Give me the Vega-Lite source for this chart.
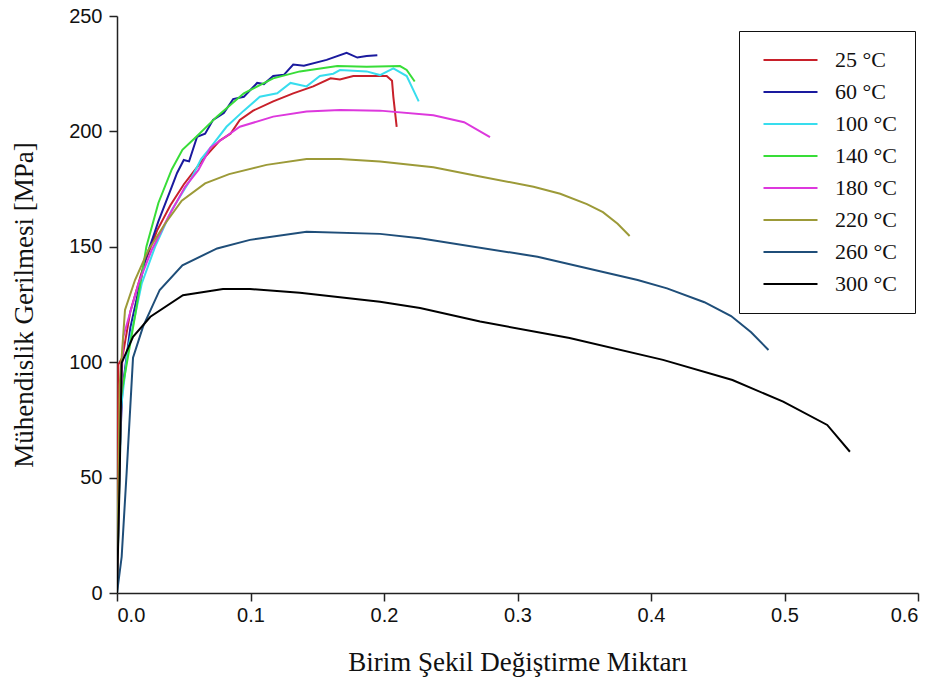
{
  "$schema": "https://vega.github.io/schema/vega-lite/v6.json",
  "width": 801,
  "height": 577,
  "autosize": "none",
  "padding": {"left": 117, "top": 16, "right": 20, "bottom": 100},
  "background": "white",
  "config": {
    "view": {"stroke": null},
    "axis": {"grid": false, "domainColor": "#222", "tickColor": "#222", "domainWidth": 1.5, "tickWidth": 1.5, "tickSize": 8,
      "labelFont": "Liberation Sans", "labelFontSize": 20, "labelColor": "#111",
      "titleFont": "Liberation Serif", "titleFontSize": 27, "titleFontWeight": "normal", "titleColor": "#111"}
  },
  "data": {"values": [
    {"t": "25 °C", "x": 0, "y": 0}, {"t": "25 °C", "x": 0.001, "y": 99}, {"t": "25 °C", "x": 0.004, "y": 102}, {"t": "25 °C", "x": 0.01, "y": 122}, {"t": "25 °C", "x": 0.02, "y": 142}, {"t": "25 °C", "x": 0.03, "y": 157}, {"t": "25 °C", "x": 0.04, "y": 168}, {"t": "25 °C", "x": 0.05, "y": 177}, {"t": "25 °C", "x": 0.058, "y": 183}, {"t": "25 °C", "x": 0.066, "y": 189}, {"t": "25 °C", "x": 0.077, "y": 196}, {"t": "25 °C", "x": 0.085, "y": 199}, {"t": "25 °C", "x": 0.092, "y": 205}, {"t": "25 °C", "x": 0.102, "y": 209}, {"t": "25 °C", "x": 0.117, "y": 213}, {"t": "25 °C", "x": 0.132, "y": 216.5}, {"t": "25 °C", "x": 0.147, "y": 219.5}, {"t": "25 °C", "x": 0.16, "y": 223}, {"t": "25 °C", "x": 0.167, "y": 222.5}, {"t": "25 °C", "x": 0.177, "y": 224}, {"t": "25 °C", "x": 0.202, "y": 224}, {"t": "25 °C", "x": 0.206, "y": 222}, {"t": "25 °C", "x": 0.207, "y": 215}, {"t": "25 °C", "x": 0.2095, "y": 202},
    {"t": "60 °C", "x": 0, "y": 0}, {"t": "60 °C", "x": 0.002, "y": 60}, {"t": "60 °C", "x": 0.004, "y": 88}, {"t": "60 °C", "x": 0.01, "y": 115}, {"t": "60 °C", "x": 0.021, "y": 144}, {"t": "60 °C", "x": 0.031, "y": 161}, {"t": "60 °C", "x": 0.041, "y": 176}, {"t": "60 °C", "x": 0.045, "y": 182}, {"t": "60 °C", "x": 0.05, "y": 187.6}, {"t": "60 °C", "x": 0.054, "y": 187}, {"t": "60 °C", "x": 0.06, "y": 197.7}, {"t": "60 °C", "x": 0.066, "y": 199}, {"t": "60 °C", "x": 0.072, "y": 205}, {"t": "60 °C", "x": 0.08, "y": 208}, {"t": "60 °C", "x": 0.087, "y": 214}, {"t": "60 °C", "x": 0.095, "y": 215}, {"t": "60 °C", "x": 0.105, "y": 221}, {"t": "60 °C", "x": 0.11, "y": 220.5}, {"t": "60 °C", "x": 0.117, "y": 224}, {"t": "60 °C", "x": 0.125, "y": 224.5}, {"t": "60 °C", "x": 0.132, "y": 229}, {"t": "60 °C", "x": 0.14, "y": 228.5}, {"t": "60 °C", "x": 0.157, "y": 231}, {"t": "60 °C", "x": 0.172, "y": 234}, {"t": "60 °C", "x": 0.18, "y": 232}, {"t": "60 °C", "x": 0.187, "y": 232.7}, {"t": "60 °C", "x": 0.195, "y": 233},
    {"t": "100 °C", "x": 0, "y": 0}, {"t": "100 °C", "x": 0.003, "y": 80}, {"t": "100 °C", "x": 0.008, "y": 105}, {"t": "100 °C", "x": 0.0185, "y": 134}, {"t": "100 °C", "x": 0.0285, "y": 150}, {"t": "100 °C", "x": 0.041, "y": 166}, {"t": "100 °C", "x": 0.056, "y": 180}, {"t": "100 °C", "x": 0.063, "y": 188}, {"t": "100 °C", "x": 0.07, "y": 193}, {"t": "100 °C", "x": 0.082, "y": 202}, {"t": "100 °C", "x": 0.095, "y": 209}, {"t": "100 °C", "x": 0.107, "y": 215}, {"t": "100 °C", "x": 0.12, "y": 216.5}, {"t": "100 °C", "x": 0.13, "y": 221}, {"t": "100 °C", "x": 0.142, "y": 219.5}, {"t": "100 °C", "x": 0.152, "y": 224}, {"t": "100 °C", "x": 0.162, "y": 225}, {"t": "100 °C", "x": 0.167, "y": 226.6}, {"t": "100 °C", "x": 0.187, "y": 226}, {"t": "100 °C", "x": 0.197, "y": 224.4}, {"t": "100 °C", "x": 0.207, "y": 227.3}, {"t": "100 °C", "x": 0.217, "y": 224}, {"t": "100 °C", "x": 0.226, "y": 213},
    {"t": "140 °C", "x": 0, "y": 0}, {"t": "140 °C", "x": 0.003, "y": 85}, {"t": "140 °C", "x": 0.0135, "y": 120}, {"t": "140 °C", "x": 0.022, "y": 150}, {"t": "140 °C", "x": 0.031, "y": 169}, {"t": "140 °C", "x": 0.041, "y": 183.5}, {"t": "140 °C", "x": 0.049, "y": 192}, {"t": "140 °C", "x": 0.06, "y": 198}, {"t": "140 °C", "x": 0.075, "y": 206.5}, {"t": "140 °C", "x": 0.095, "y": 216.5}, {"t": "140 °C", "x": 0.117, "y": 223}, {"t": "140 °C", "x": 0.137, "y": 226}, {"t": "140 °C", "x": 0.165, "y": 228.3}, {"t": "140 °C", "x": 0.187, "y": 228}, {"t": "140 °C", "x": 0.212, "y": 228.3}, {"t": "140 °C", "x": 0.217, "y": 226.6}, {"t": "140 °C", "x": 0.223, "y": 221.6},
    {"t": "180 °C", "x": 0, "y": 0}, {"t": "180 °C", "x": 0.003, "y": 85}, {"t": "180 °C", "x": 0.0047, "y": 111}, {"t": "180 °C", "x": 0.016, "y": 134}, {"t": "180 °C", "x": 0.026, "y": 148.6}, {"t": "180 °C", "x": 0.0385, "y": 163}, {"t": "180 °C", "x": 0.051, "y": 176}, {"t": "180 °C", "x": 0.061, "y": 183.3}, {"t": "180 °C", "x": 0.07, "y": 193}, {"t": "180 °C", "x": 0.092, "y": 202}, {"t": "180 °C", "x": 0.117, "y": 206.4}, {"t": "180 °C", "x": 0.142, "y": 208.6}, {"t": "180 °C", "x": 0.167, "y": 209.3}, {"t": "180 °C", "x": 0.197, "y": 209}, {"t": "180 °C", "x": 0.237, "y": 207}, {"t": "180 °C", "x": 0.26, "y": 204}, {"t": "180 °C", "x": 0.2794, "y": 197.5},
    {"t": "220 °C", "x": 0, "y": 0}, {"t": "220 °C", "x": 0.002, "y": 90}, {"t": "220 °C", "x": 0.006, "y": 122.6}, {"t": "220 °C", "x": 0.0135, "y": 135.6}, {"t": "220 °C", "x": 0.0235, "y": 148.6}, {"t": "220 °C", "x": 0.036, "y": 160}, {"t": "220 °C", "x": 0.0485, "y": 170}, {"t": "220 °C", "x": 0.066, "y": 177.5}, {"t": "220 °C", "x": 0.084, "y": 181.5}, {"t": "220 °C", "x": 0.112, "y": 185.5}, {"t": "220 °C", "x": 0.142, "y": 188}, {"t": "220 °C", "x": 0.167, "y": 188}, {"t": "220 °C", "x": 0.197, "y": 187}, {"t": "220 °C", "x": 0.237, "y": 184.5}, {"t": "220 °C", "x": 0.272, "y": 180.5}, {"t": "220 °C", "x": 0.312, "y": 176}, {"t": "220 °C", "x": 0.332, "y": 173}, {"t": "220 °C", "x": 0.352, "y": 168.5}, {"t": "220 °C", "x": 0.364, "y": 165}, {"t": "220 °C", "x": 0.375, "y": 160}, {"t": "220 °C", "x": 0.384, "y": 154.7},
    {"t": "260 °C", "x": 0, "y": 0}, {"t": "260 °C", "x": 0.0035, "y": 15.7}, {"t": "260 °C", "x": 0.0072, "y": 52}, {"t": "260 °C", "x": 0.012, "y": 102}, {"t": "260 °C", "x": 0.0195, "y": 115.4}, {"t": "260 °C", "x": 0.032, "y": 131.3}, {"t": "260 °C", "x": 0.049, "y": 142}, {"t": "260 °C", "x": 0.075, "y": 149.3}, {"t": "260 °C", "x": 0.0996, "y": 153}, {"t": "260 °C", "x": 0.142, "y": 156.5}, {"t": "260 °C", "x": 0.197, "y": 155.6}, {"t": "260 °C", "x": 0.227, "y": 153.7}, {"t": "260 °C", "x": 0.315, "y": 145.7}, {"t": "260 °C", "x": 0.39, "y": 135.6}, {"t": "260 °C", "x": 0.412, "y": 132}, {"t": "260 °C", "x": 0.44, "y": 126}, {"t": "260 °C", "x": 0.46, "y": 120}, {"t": "260 °C", "x": 0.475, "y": 113}, {"t": "260 °C", "x": 0.488, "y": 105.3},
    {"t": "300 °C", "x": 0, "y": 0}, {"t": "300 °C", "x": 0.002, "y": 50}, {"t": "300 °C", "x": 0.0035, "y": 99.7}, {"t": "300 °C", "x": 0.012, "y": 111}, {"t": "300 °C", "x": 0.025, "y": 119.7}, {"t": "300 °C", "x": 0.0494, "y": 129}, {"t": "300 °C", "x": 0.0794, "y": 131.7}, {"t": "300 °C", "x": 0.0996, "y": 131.7}, {"t": "300 °C", "x": 0.137, "y": 130.1}, {"t": "300 °C", "x": 0.197, "y": 126.2}, {"t": "300 °C", "x": 0.227, "y": 123.5}, {"t": "300 °C", "x": 0.272, "y": 117.6}, {"t": "300 °C", "x": 0.339, "y": 110.5}, {"t": "300 °C", "x": 0.409, "y": 101}, {"t": "300 °C", "x": 0.461, "y": 92.3}, {"t": "300 °C", "x": 0.499, "y": 82.9}, {"t": "300 °C", "x": 0.532, "y": 72.8}, {"t": "300 °C", "x": 0.549, "y": 61.2}
  ]},
  "mark": {"type": "line", "strokeWidth": 2, "clip": true},
  "encoding": {
    "x": {"field": "x", "type": "quantitative", "scale": {"domain": [0, 0.6], "nice": false},
      "axis": {"values": [0, 0.1, 0.2, 0.3, 0.4, 0.5, 0.6], "format": ".1f", "labelPadding": 4, "title": "Birim Şekil Değiştirme Miktarı", "titlePadding": 24}},
    "y": {"field": "y", "type": "quantitative", "scale": {"domain": [0, 250], "nice": false},
      "axis": {"values": [0, 50, 100, 150, 200, 250], "labelPadding": 7, "title": "Mühendislik Gerilmesi [MPa]", "titlePadding": 30}},
    "color": {"field": "t", "type": "nominal",
      "scale": {"domain": ["25 °C", "60 °C", "100 °C", "140 °C", "180 °C", "220 °C", "260 °C", "300 °C"],
        "range": ["#C8202A", "#1A1A9E", "#38DDEE", "#38DD38", "#DD38DD", "#9C9A38", "#1F4E79", "#000000"]},
      "legend": {"title": null, "orient": "none", "legendX": 622, "legendY": 15, "padding": 18,
        "strokeColor": "#111", "symbolType": "M-1,0H11", "symbolSize": 81, "symbolStrokeWidth": 2.2,
        "labelOffset": 56, "labelFont": "Liberation Serif", "labelFontSize": 22, "labelColor": "#111", "rowPadding": 10}}
  }
}
